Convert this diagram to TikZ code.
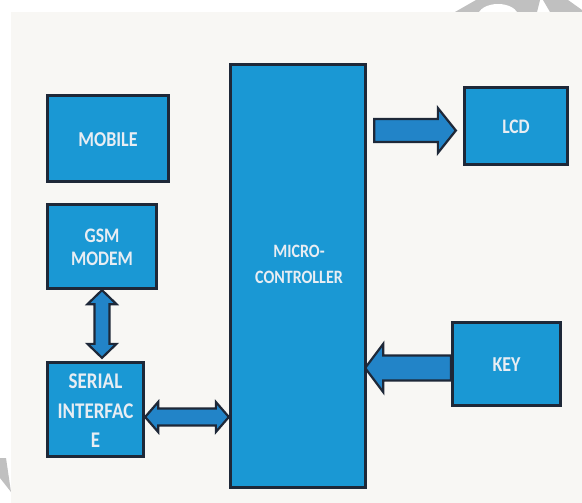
\documentclass[tikz,border=0pt]{standalone}
\usepackage{fontspec}
\setmainfont{Carlito}
\usepackage{graphicx}
\usetikzlibrary{calc}
\pgfdeclarelayer{back}
\pgfdeclarelayer{bg}
\pgfsetlayers{back,bg,main}
\definecolor{boxblue}{RGB}{26,152,212}
\definecolor{arrblue}{RGB}{34,132,200}
\definecolor{edgec}{RGB}{30,40,56}
\definecolor{panelc}{RGB}{248,247,244}
\definecolor{wmc}{RGB}{192,192,192}
\definecolor{txtc}{RGB}{232,237,243}
\newcommand\btxt[3]{\raisebox{-3pt}[\height][\depth]{\fontsize{#1}{#2}\selectfont\bfseries\scalebox{1}[1.18]{\begin{tabular}{@{}c@{}}#3\end{tabular}}}}
\begin{document}
\begin{tikzpicture}[x=1pt,y=-1pt,
  blk/.style={draw=edgec, line width=2.8pt, fill=boxblue, inner sep=0pt, text=txtc},
  lbl/.style={inner sep=0pt, text=txtc},
  arr/.style={draw=edgec, line width=2.2pt, fill=arrblue, line join=miter}]
\useasboundingbox (0,0) rectangle (582,503);
\begin{pgfonlayer}{back}
\fill[white] (0,0) rectangle (582,503);
\fill[wmc] (455,12) -- (476,0) -- (540,0) -- (537,12) -- cycle;
\fill[white] (498,16) ellipse [x radius=20, y radius=12];
\fill[wmc] (543,0) -- (568,0) -- (582,10) -- (582,12) -- (550,12) -- cycle;
\fill[panelc] (11,12) rectangle (582,503);
\fill[wmc] (0,458) -- (6,458) -- (11,492) -- (0,478) -- cycle;
\end{pgfonlayer}

% boxes
\node[blk, minimum width=121.5, minimum height=86.5] (mob) at (108,138.5) {\btxt{18}{20}{MOBILE}};
\node[blk, minimum width=109.5, minimum height=84.5] (gsm) at (102,246.5) {\btxt{17.5}{19}{GSM\\MODEM}};
\node[blk, minimum width=96.5, minimum height=94.5] (ser) at (95.5,409.5) {\btxt{19}{25}{SERIAL\\INTERFAC\\E}};
\node[blk, minimum width=135.5, minimum height=423.5] (mc) at (298,276) {};
\node[lbl] (mcl) at ($(mc.center)+(1,-14)$) {\btxt{16}{22}{MICRO-\\CONTROLLER}};
\node[blk, minimum width=103.5, minimum height=77.5] (lcd) at (516,126) {\btxt{17.5}{20}{LCD}};
\node[blk, minimum width=108.5, minimum height=83.5] (key) at (506.5,364) {\btxt{18}{20}{KEY}};

% connector end points
\coordinate (la) at ($(mc.east |- lcd.west)+(7,4.5)$);
\coordinate (lb) at ($(lcd.west)+(-7,4.5)$);
\coordinate (ka) at ($(key.west)+(0,4)$);
\coordinate (kb) at ($(mc.east |- key.west)+(-2,4)$);
\coordinate (sa) at ($(ser.east)+(0,7.5)$);
\coordinate (sb) at ($(mc.west |- ser.east)+(0,7.5)$);
\coordinate (va) at (gsm.south);
\coordinate (vb) at ($(gsm.south |- ser.north)+(0,-3)$);

\begin{pgfonlayer}{bg}
% MC -> LCD
\draw[arr] ($(la)+(0,-11.5)$) -- ($(lb)+(-18,-11.5)$) -- ($(lb)+(-18,-22.5)$) -- (lb)
  -- ($(lb)+(-18,22.5)$) -- ($(lb)+(-18,11.5)$) -- ($(la)+(0,11.5)$) -- cycle;
% KEY -> MC
\draw[arr] ($(ka)+(0,-12.5)$) -- ($(kb)+(18,-12.5)$) -- ($(kb)+(18,-24)$) -- (kb)
  -- ($(kb)+(18,24)$) -- ($(kb)+(18,12.5)$) -- ($(ka)+(0,12.5)$) -- cycle;
% SERIAL <-> MC
\draw[arr] (sa) -- ($(sa)+(13,-15)$) -- ($(sa)+(13,-8.5)$) -- ($(sb)+(-13,-8.5)$) -- ($(sb)+(-13,-15)$)
  -- (sb) -- ($(sb)+(-13,15)$) -- ($(sb)+(-13,8.5)$) -- ($(sa)+(13,8.5)$) -- ($(sa)+(13,15)$) -- cycle;
% GSM <-> SERIAL
\draw[arr] (va) -- ($(va)+(14.5,14)$) -- ($(va)+(7.5,14)$) -- ($(vb)+(7.5,-14)$) -- ($(vb)+(14.5,-14)$)
  -- (vb) -- ($(vb)+(-14.5,-14)$) -- ($(vb)+(-7.5,-14)$) -- ($(va)+(-7.5,14)$) -- ($(va)+(-14.5,14)$) -- cycle;
\end{pgfonlayer}
\end{tikzpicture}
\end{document}
